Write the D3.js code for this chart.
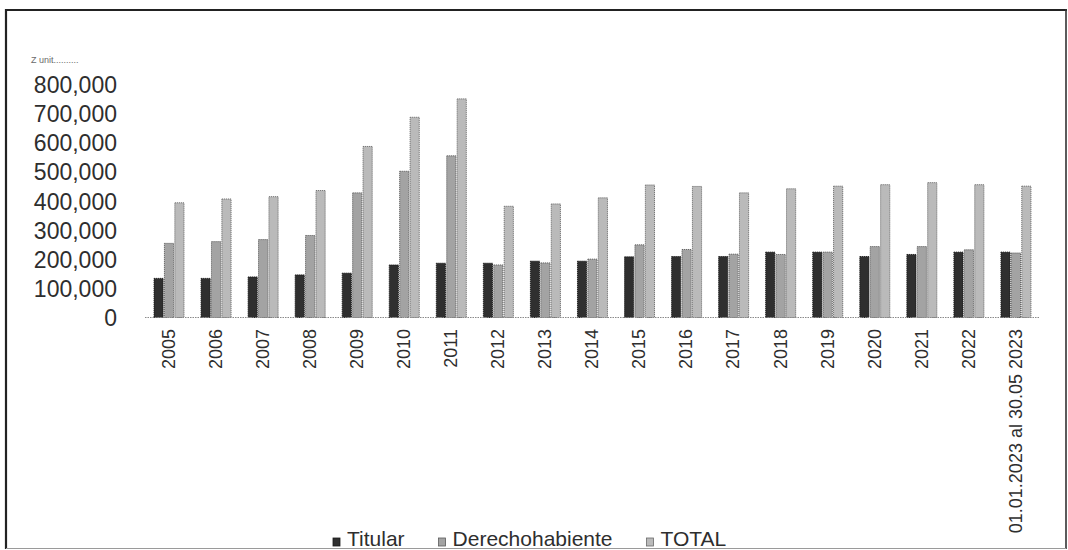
<!DOCTYPE html>
<html>
<head>
<meta charset="utf-8">
<script src="https://cdn.jsdelivr.net/npm/d3@7"></script>
<style>
  html, body { margin: 0; padding: 0; background: #ffffff; }
  svg { display: block; }
  text { font-family: "Liberation Sans", Arial, sans-serif; }
</style>
</head>
<body>
<svg id="chart" width="1068" height="550"></svg>
<script>
// Periods shown on the horizontal axis
const categories = ["2005","2006","2007","2008","2009","2010","2011","2012","2013","2014",
  "2015","2016","2017","2018","2019","2020","2021","2022","01.01.2023 al 30.05 2023"];

// Series values per period
const titular = [134000,134000,139000,146000,152000,180000,186000,186000,193000,193000,
  208000,209000,209000,224000,224000,209000,216000,224000,224000];
const derechohabiente = [254000,260000,267000,281000,427000,501000,554000,180000,187000,200000,
  249000,233000,217000,216000,224000,243000,243000,232000,221000];
const total = [393000,406000,414000,435000,586000,686000,749000,381000,389000,410000,
  454000,449000,427000,441000,450000,455000,462000,455000,450000];

const seriesNames = ["Titular", "Derechohabiente", "TOTAL"];
const seriesValues = [titular, derechohabiente, total];
const yTicks = [0,100000,200000,300000,400000,500000,600000,700000,800000];

const fills = { "Titular": "#2f2f2f", "Derechohabiente": "#a3a3a3", "TOTAL": "#bababa" };
const strokes = { "Titular": "#1a1a1a", "Derechohabiente": "#5a5a5a", "TOTAL": "#6a6a6a" };
const textColor = "#2e2e2e";

const svg = d3.select("#chart");

// Outer frame
svg.append("rect").attr("x", 0).attr("y", 0).attr("width", 1068).attr("height", 550).attr("fill", "#ffffff");
svg.append("line").attr("x1", 5).attr("x2", 1067).attr("y1", 10).attr("y2", 10)
  .attr("stroke", "#222").attr("stroke-width", 2.2);
svg.append("line").attr("x1", 6).attr("x2", 6).attr("y1", 9).attr("y2", 549)
  .attr("stroke", "#222").attr("stroke-width", 2.2);
svg.append("line").attr("x1", 1066).attr("x2", 1066).attr("y1", 9).attr("y2", 549)
  .attr("stroke", "#333").attr("stroke-width", 1.6);
svg.append("line").attr("x1", 6).attr("x2", 1066).attr("y1", 548.5).attr("y2", 548.5)
  .attr("stroke", "#9a9a9a").attr("stroke-width", 1);

// Scales
const x0 = d3.scaleBand().domain(categories).range([145, 1039]).padding(0);
const x1 = d3.scaleBand().domain(seriesNames).range([9, 39]).paddingInner(0.12);
const y = d3.scaleLinear().domain([0, 800000]).range([317.5, 84]);

// Value axis labels
const yAxis = d3.axisLeft(y).tickValues(yTicks).tickSize(0).tickPadding(0)
  .tickFormat(d3.format(","));
const gy = svg.append("g").attr("transform", "translate(117,1)").call(yAxis);
gy.select(".domain").remove();
gy.selectAll("text").style("font-size", "23px").style("fill", textColor)
  .style("font-family", "'Liberation Sans', Arial, sans-serif");

// Small unit note above the value axis
svg.append("text").attr("x", 31).attr("y", 63).style("font-size", "9px")
  .style("fill", "#6a6a6a").text("Z unit..........");

// Bars
const rows = categories.map((c, i) => ({ cat: c, vals: seriesNames.map((s, k) => ({ s, v: seriesValues[k][i] })) }));
const groups = svg.append("g").selectAll("g").data(rows).join("g")
  .attr("transform", d => `translate(${x0(d.cat)},0)`);
groups.selectAll("rect").data(d => d.vals).join("rect")
  .attr("x", d => x1(d.s))
  .attr("y", d => y(d.v))
  .attr("width", x1.bandwidth())
  .attr("height", d => y(0) - y(d.v))
  .attr("fill", d => fills[d.s])
  .attr("stroke", d => strokes[d.s])
  .attr("stroke-width", 0.9)
  .attr("stroke-dasharray", "1.2,0.8");

// Baseline
svg.append("line").attr("x1", 145).attr("x2", 1039).attr("y1", y(0)).attr("y2", y(0))
  .attr("stroke", "#8a8a8a").attr("stroke-width", 1).attr("stroke-dasharray", "1.5,1");

// Category axis labels (vertical)
const xAxis = d3.axisBottom(x0).tickSize(0).tickPadding(0);
const gx = svg.append("g").call(xAxis);
gx.select(".domain").remove();
gx.selectAll(".tick text")
  .attr("transform", "translate(0,329) rotate(-90)")
  .attr("x", 0).attr("y", 0).attr("dy", "0.35em")
  .attr("text-anchor", "end")
  .style("font-size", "18px").style("fill", textColor)
  .style("font-family", "'Liberation Sans', Arial, sans-serif");

// Legend along the bottom edge
const legend = svg.append("g").attr("transform", "translate(333,0)");
let lx = 0;
seriesNames.forEach((s, k) => {
  const g = legend.append("g").attr("transform", `translate(${lx},0)`);
  g.append("rect").attr("x", 0).attr("y", 538).attr("width", 7).attr("height", 8)
    .attr("fill", fills[s]).attr("stroke", strokes[s]).attr("stroke-width", 0.8);
  const t = g.append("text").attr("x", 14).attr("y", 546).style("font-size", "21px")
    .style("fill", textColor).text(s);
  lx += 14 + t.node().getComputedTextLength() + 34;
});
</script>
</body>
</html>
